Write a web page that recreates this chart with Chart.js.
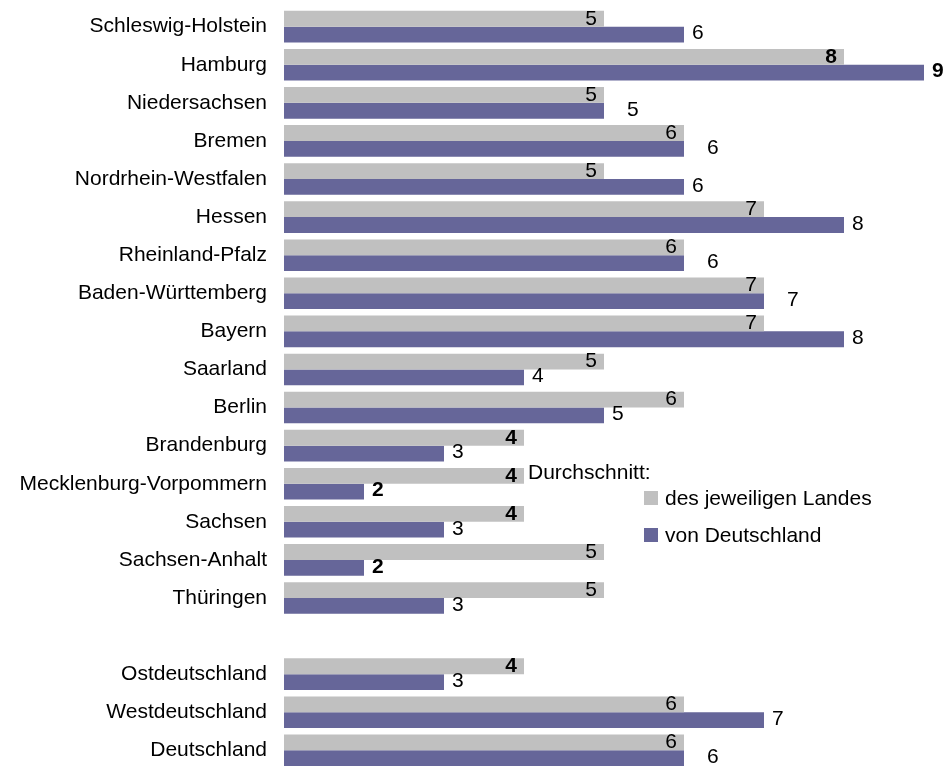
<!DOCTYPE html>
<html>
<head>
<meta charset="utf-8">
<script src="https://cdn.jsdelivr.net/npm/chart.js@4.4.1/dist/chart.umd.min.js"></script>
<style>
    html, body { margin: 0; padding: 0; background: #fff; overflow: hidden; }
    #wrap { position: relative; width: 945px; height: 766px; overflow: hidden; }
    #chart { position: absolute; left: 0; top: 0; }
    .legend { position: absolute; font-family: 'Liberation Sans', Arial, sans-serif; font-size: 21px; line-height: 24px; color: #000; white-space: nowrap; }
    .box { position: absolute; width: 14px; height: 14px; }
</style>
</head>
<body>
<div id="wrap">
    <canvas id="chart" width="1004" height="770"></canvas>
    <div class="legend" style="left: 528px; top: 460px;">Durchschnitt:</div>
    <div class="box" style="left: 644px; top: 491px; background: #C0C0C0;"></div>
    <div class="legend" style="left: 665px; top: 486px;">des jeweiligen Landes</div>
    <div class="box" style="left: 644px; top: 528px; background: #666699;"></div>
    <div class="legend" style="left: 665px; top: 523px;">von Deutschland</div>
</div>
<script>
// Kategorien (leerer Eintrag = Abstand vor Ost/West)
const laender = [
    'Schleswig-Holstein', 'Hamburg', 'Niedersachsen', 'Bremen', 'Nordrhein-Westfalen',
    'Hessen', 'Rheinland-Pfalz', 'Baden-Württemberg', 'Bayern', 'Saarland', 'Berlin',
    'Brandenburg', 'Mecklenburg-Vorpommern', 'Sachsen', 'Sachsen-Anhalt', 'Thüringen',
    '', 'Ostdeutschland', 'Westdeutschland', 'Deutschland'
];

// Durchschnitt des jeweiligen Landes
const wertLand = [5, 8, 5, 6, 5, 7, 6, 7, 7, 5, 6, 4, 4, 4, 5, 5, null, 4, 6, 6];

// Durchschnitt von Deutschland
const wertDeutschland = [6, 9, 5, 6, 6, 8, 6, 7, 8, 4, 5, 3, 2, 3, 2, 3, null, 3, 7, 6];

const achseMin = 1;
const achseMax = 10;

const FONT = "'Liberation Sans', Arial, sans-serif";
const SIZE = 21;

// fett, wenn Minimum oder Maximum der Reihe
function isExtrem(arr, v) {
    const vals = arr.filter(x => x !== null);
    return v === Math.min(...vals) || v === Math.max(...vals);
}

// Werte an die Balken schreiben
const labelPlugin = {
    id: 'wertLabels',
    afterDatasetsDraw(chart) {
        const ctx = chart.ctx;
        ctx.save();
        ctx.fillStyle = '#000';
        ctx.textBaseline = 'middle';

        // graue Balken: innen am Ende
        chart.getDatasetMeta(0).data.forEach((bar, i) => {
            const v = wertLand[i];
            if (v === null) return;
            ctx.font = (isExtrem(wertLand, v) ? 'bold ' : '') + SIZE + 'px ' + FONT;
            ctx.textAlign = 'right';
            ctx.fillText(String(v), bar.x - 7, bar.y);
        });

        // blaue Balken: außen am Ende (weiter rechts, wenn gleich grau)
        chart.getDatasetMeta(1).data.forEach((bar, i) => {
            const v = wertDeutschland[i];
            if (v === null) return;
            ctx.font = (isExtrem(wertDeutschland, v) ? 'bold ' : '') + SIZE + 'px ' + FONT;
            ctx.textAlign = 'left';
            const dx = (wertLand[i] === v) ? 23 : 8;
            ctx.fillText(String(v), bar.x + dx, bar.y - 1);
        });
        ctx.restore();
    }
};

const canvas = document.getElementById('chart');

function buildChart(h) {
    canvas.width = 1004;
    canvas.height = h;
    return new Chart(canvas.getContext('2d'), {
        type: 'bar',
        data: {
            labels: laender,
            datasets: [
                {
                    label: 'des jeweiligen Landes',
                    data: wertLand,
                    backgroundColor: '#C0C0C0',
                    borderWidth: 0
                },
                {
                    label: 'von Deutschland',
                    data: wertDeutschland,
                    backgroundColor: '#666699',
                    borderWidth: 0
                }
            ]
        },
        options: {
            indexAxis: 'y',
            responsive: false,
            maintainAspectRatio: false,
            animation: false,
            devicePixelRatio: 1,
            layout: { padding: 0 },
            datasets: {
                bar: {
                    categoryPercentage: 0.83,
                    barPercentage: 1.0
                }
            },
            plugins: {
                legend: { display: false },
                tooltip: { enabled: false }
            },
            scales: {
                x: {
                    display: false,
                    min: achseMin,
                    max: achseMax
                },
                y: {
                    grid: { display: false, drawTicks: false },
                    border: { display: false },
                    ticks: {
                        color: '#000',
                        padding: 17,
                        font: { family: FONT, size: SIZE }
                    },
                    afterFit(scale) {
                        scale.width = 284;
                    }
                }
            }
        },
        plugins: [labelPlugin]
    });
}

// Plotfläche soll von y=7.5 bis y=769.5 reichen
let chart = buildChart(770);
const area = chart.chartArea;
const rest = 770 - (area.bottom - area.top);
chart.destroy();
chart = buildChart(Math.round(762 + rest));
canvas.style.top = Math.round(7.5 - chart.chartArea.top) + 'px';
</script>
</body>
</html>
